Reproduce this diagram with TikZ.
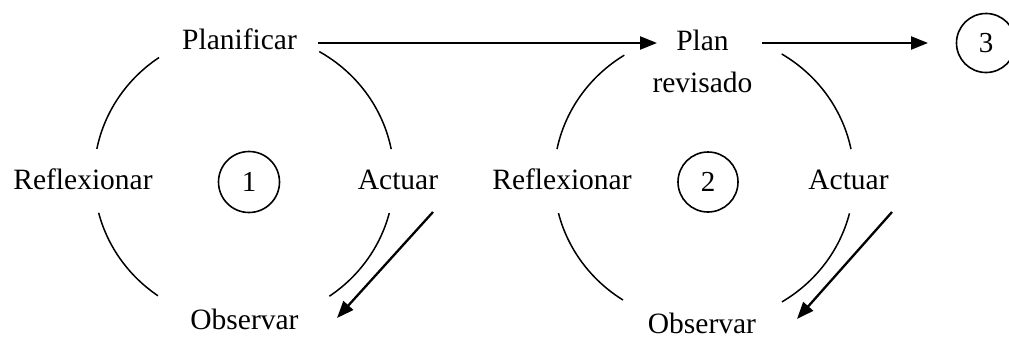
\documentclass[tikz,border=0pt]{standalone}
\usepackage{fontspec}
\setmainfont{Liberation Serif}
\usetikzlibrary{arrows.meta}
\begin{document}
\begin{tikzpicture}[x=1pt,y=-1pt,
  lbl/.style={font=\fontsize{29.5}{42}\selectfont, inner sep=0pt, anchor=base},
  num/.style={draw, circle, line width=1.6pt, inner sep=0pt, font=\fontsize{29}{32}\selectfont},
  ring/.style={line width=1.5pt},
  flow/.style={line width=2.3pt, -{Triangle[length=17pt,width=13pt]}}]
\useasboundingbox (0,0) rectangle (1009,340);
% cycle 1
\coordinate (cyc1) at (244,177);
\node[lbl] (plan1) at (239.5,49) {Planificar};
\node[lbl] (refl1) at (83,189) {Reflexionar};
\node[lbl] (act1) at (398,189) {Actuar};
\node[lbl] (obs1) at (244.5,329) {Observar};
\node[num, minimum size=61pt] (n1) at (249,182) {1};
\draw[ring] (cyc1) ++(-124.5:150 and 145) arc[start angle=-124.5, end angle=-168.8, x radius=150, y radius=145];
\draw[ring] (cyc1) ++(-59.9:150 and 145) arc[start angle=-59.9, end angle=-11.1, x radius=150, y radius=145];
\draw[ring] (cyc1) ++(165.7:150 and 145) arc[start angle=165.7, end angle=125, x radius=150, y radius=145];
\draw[ring] (cyc1) ++(14.4:150 and 145) arc[start angle=14.4, end angle=55.3, x radius=150, y radius=145];
% cycle 2
\coordinate (cyc2) at (704,178);
\node[lbl, align=center, anchor=north] (plan2) at (702.5,30) {Plan\\revisado};
\node[lbl] (refl2) at (562,189) {Reflexionar};
\node[lbl] (act2) at (848.5,189) {Actuar};
\node[lbl] (obs2) at (702,333) {Observar};
\node[num, minimum size=60pt] (n2) at (708,182) {2};
\draw[ring] (cyc2) ++(-122.1:150 and 145) arc[start angle=-122.1, end angle=-168.5, x radius=150, y radius=145];
\draw[ring] (cyc2) ++(-58.8:150 and 145) arc[start angle=-58.8, end angle=-11.5, x radius=150, y radius=145];
\draw[ring] (cyc2) ++(166:150 and 145) arc[start angle=166, end angle=122.7, x radius=150, y radius=145];
\draw[ring] (cyc2) ++(14.1:150 and 145) arc[start angle=14.1, end angle=58.7, x radius=150, y radius=145];
% cycle 3
\node[num, minimum size=59pt] (n3) at (986,43) {3};
% connectors
\coordinate (p1s) at (318,43);
\coordinate (p2t) at (657,43);
\coordinate (p2s) at (762,43);
\coordinate (n3t) at (928,43);
\coordinate (a1s) at (433,212);
\coordinate (o1t) at (337,318);
\coordinate (a2s) at (892,212);
\coordinate (o2t) at (797,319);
\draw[flow] (p1s) -- (p2t);
\draw[flow] (p2s) -- (n3t);
\draw[flow] (a1s) -- (o1t);
\draw[flow] (a2s) -- (o2t);
\end{tikzpicture}
\end{document}
